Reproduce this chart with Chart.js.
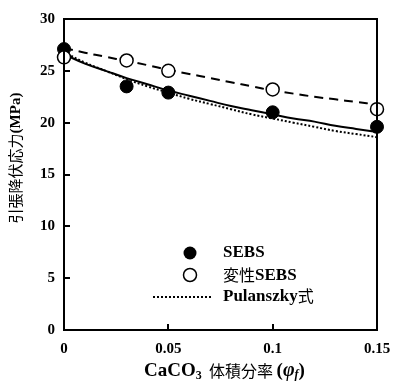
<!DOCTYPE html>
<html>
<head>
<meta charset="utf-8">
<script src="https://cdn.jsdelivr.net/npm/chart.js@4.4.1/dist/chart.umd.min.js"></script>
<style>
    html, body { margin: 0; padding: 0; background: #fff; }
    #wrap { width: 395px; height: 383px; }
</style>
</head>
<body>
<div id="wrap"><canvas id="yieldChart" width="395" height="383"></canvas></div>
<script>
// measured points
const sebsX = [0, 0.03, 0.05, 0.1, 0.15];
const sebsY = [27.1, 23.5, 22.9, 21.0, 19.6];
const modX = [0, 0.03, 0.05, 0.1, 0.15];
const modY = [26.3, 26.0, 25.0, 23.2, 21.3];

// fitted curves
const curveX = [0, 0.01, 0.02, 0.03, 0.04, 0.05, 0.06, 0.07, 0.08, 0.09, 0.1, 0.11, 0.12, 0.13, 0.14, 0.15];
const sebsFit = [26.6, 25.7, 25.0, 24.3, 23.7, 23.1, 22.6, 22.1, 21.6, 21.2, 20.8, 20.4, 20.1, 19.7, 19.4, 19.1];
const modFit = [27.2, 26.75, 26.35, 25.95, 25.55, 25.1, 24.7, 24.3, 23.9, 23.5, 23.1, 22.8, 22.5, 22.25, 22.0, 21.75];
const pulanszky = [26.8, 25.8, 25.0, 24.2, 23.5, 22.9, 22.3, 21.8, 21.3, 20.8, 20.4, 20.0, 19.6, 19.2, 18.9, 18.6];

const yTicks = [0, 5, 10, 15, 20, 25, 30];
const xTicks = [0, 0.05, 0.1, 0.15];
const xTickLabels = ['0', '0.05', '0.1', '0.15'];

const serifBold = "bold 17px 'Liberation Serif', 'Times New Roman', serif";
const cjkFont = "16px 'Noto Sans CJK JP', sans-serif";

function pts(xs, ys) {
    return xs.map((x, i) => ({ x: x, y: ys[i] }));
}

// frame, inward ticks, axis titles and legend
const decorations = {
    id: 'decorations',
    afterDatasetsDraw(chart) {
        const ctx = chart.ctx;
        const a = chart.chartArea;
        const xs = chart.scales.x;
        const ys = chart.scales.y;
        ctx.save();
        ctx.strokeStyle = '#000';
        ctx.lineWidth = 2;
        ctx.strokeRect(a.left, a.top, a.right - a.left, a.bottom - a.top);

        ctx.beginPath();
        yTicks.forEach(v => {
            const py = Math.round(ys.getPixelForValue(v));
            ctx.moveTo(a.left, py);
            ctx.lineTo(a.left + 6, py);
        });
        xTicks.forEach(v => {
            const px = Math.round(xs.getPixelForValue(v));
            ctx.moveTo(px, a.bottom);
            ctx.lineTo(px, a.bottom - 6);
        });
        ctx.stroke();

        // y title
        ctx.fillStyle = '#000';
        ctx.save();
        ctx.translate(15, 158);
        ctx.rotate(-Math.PI / 2);
        ctx.textBaseline = 'middle';
        const t1 = '引張降伏応力';
        const f1 = "15px 'Noto Sans CJK JP', sans-serif";
        const f2 = "bold 15px 'Liberation Serif', serif";
        ctx.font = f1;
        const w1 = ctx.measureText(t1).width;
        ctx.font = f2;
        const w2 = ctx.measureText('(MPa)').width;
        const sx = -(w1 + w2) / 2;
        ctx.textAlign = 'left';
        ctx.font = f1;
        ctx.fillText(t1, sx, 0);
        ctx.font = f2;
        ctx.fillText('(MPa)', sx + w1, 1);
        ctx.restore();

        // x title
        const parts = [
            { t: 'CaCO', f: "bold 19px 'Liberation Serif', serif", dy: 0 },
            { t: '3', f: "bold 12px 'Liberation Serif', serif", dy: 5 },
            { t: '  体積分率 ', f: "16px 'Noto Sans CJK JP', sans-serif", dy: 0 },
            { t: '(', f: "bold 19px 'Liberation Serif', serif", dy: 0 },
            { t: 'φ', f: "italic bold 20px 'Liberation Serif', serif", dy: 0 },
            { t: 'f', f: "italic bold 12px 'Liberation Serif', serif", dy: 4 },
            { t: ')', f: "bold 19px 'Liberation Serif', serif", dy: 0 }
        ];
        let total = 0;
        parts.forEach(p => { ctx.font = p.f; p.w = ctx.measureText(p.t).width; total += p.w; });
        let cx = (a.left + a.right) / 2 + 4 - total / 2;
        ctx.textAlign = 'left';
        ctx.textBaseline = 'middle';
        parts.forEach(p => {
            ctx.font = p.f;
            ctx.fillText(p.t, cx, 371 + p.dy);
            cx += p.w;
        });

        // legend
        const lx = a.left + 126;
        const tx = a.left + 159;
        const rows = [a.top + 234, a.top + 256, a.top + 278];
        ctx.beginPath();
        ctx.arc(lx, rows[0], 6.5, 0, Math.PI * 2);
        ctx.fill();
        ctx.beginPath();
        ctx.lineWidth = 1.5;
        ctx.arc(lx, rows[1], 6.5, 0, Math.PI * 2);
        ctx.fillStyle = '#fff';
        ctx.fill();
        ctx.stroke();
        ctx.fillStyle = '#000';
        ctx.beginPath();
        ctx.lineWidth = 2;
        ctx.setLineDash([2, 2]);
        ctx.moveTo(a.left + 89, rows[2]);
        ctx.lineTo(a.left + 147, rows[2]);
        ctx.stroke();
        ctx.setLineDash([]);

        ctx.textBaseline = 'middle';
        ctx.font = serifBold;
        ctx.fillText('SEBS', tx, rows[0]);
        ctx.font = cjkFont;
        ctx.fillText('変性', tx, rows[1]);
        const wv = ctx.measureText('変性').width;
        ctx.font = serifBold;
        ctx.fillText('SEBS', tx + wv, rows[1] + 1);
        ctx.fillText('Pulanszky', tx, rows[2]);
        const wp = ctx.measureText('Pulanszky').width;
        ctx.font = cjkFont;
        ctx.fillText('式', tx + wp, rows[2] - 1);
        ctx.restore();
    }
};

const ctx = document.getElementById('yieldChart').getContext('2d');
const chart = new Chart(ctx, {
    type: 'scatter',
    data: {
        datasets: [
            {
                label: 'Pulanszky式',
                data: pts(curveX, pulanszky),
                showLine: true,
                borderColor: '#000',
                borderWidth: 2,
                borderDash: [2, 2],
                pointRadius: 0,
                tension: 0.4,
                order: 5
            },
            {
                label: 'SEBS fit',
                data: pts(curveX, sebsFit),
                showLine: true,
                borderColor: '#000',
                borderWidth: 2,
                pointRadius: 0,
                tension: 0.4,
                order: 4
            },
            {
                label: '変性SEBS fit',
                data: pts(curveX, modFit),
                showLine: true,
                borderColor: '#000',
                borderWidth: 2,
                borderDash: [9, 6],
                pointRadius: 0,
                tension: 0.4,
                order: 3
            },
            {
                label: 'SEBS',
                data: pts(sebsX, sebsY),
                backgroundColor: '#000',
                borderColor: '#000',
                pointRadius: 6.5,
                borderWidth: 1,
                order: 2
            },
            {
                label: '変性SEBS',
                data: pts(modX, modY),
                backgroundColor: '#fff',
                borderColor: '#000',
                pointRadius: 6.5,
                borderWidth: 1.5,
                order: 1
            }
        ]
    },
    options: {
        responsive: false,
        animation: false,
        clip: false,
        layout: { padding: { top: 19, right: 18, left: 0, bottom: 0 } },
        plugins: {
            legend: { display: false },
            tooltip: { enabled: false }
        },
        scales: {
            x: {
                type: 'linear',
                min: 0,
                max: 0.15,
                afterBuildTicks: (scale) => { scale.ticks = xTicks.map(v => ({ value: v })); },
                afterFit: (scale) => {
                    scale.height = 53;
                    scale.paddingLeft = 0;
                    scale.paddingRight = 0;
                },
                grid: { display: false, drawTicks: false },
                border: { display: false },
                ticks: {
                    color: '#000',
                    padding: 10,
                    font: { family: "'Liberation Serif', serif", size: 15, weight: 'bold' },
                    callback: (v) => xTickLabels[xTicks.indexOf(v)] ?? ''
                }
            },
            y: {
                type: 'linear',
                min: 0,
                max: 30,
                afterBuildTicks: (scale) => { scale.ticks = yTicks.map(v => ({ value: v })); },
                afterFit: (scale) => {
                    scale.width = 64;
                    scale.paddingTop = 0;
                    scale.paddingBottom = 0;
                },
                grid: { display: false, drawTicks: false },
                border: { display: false },
                ticks: {
                    color: '#000',
                    padding: 9,
                    font: { family: "'Liberation Serif', serif", size: 15, weight: 'bold' }
                }
            }
        }
    },
    plugins: [decorations]
});
</script>
</body>
</html>
